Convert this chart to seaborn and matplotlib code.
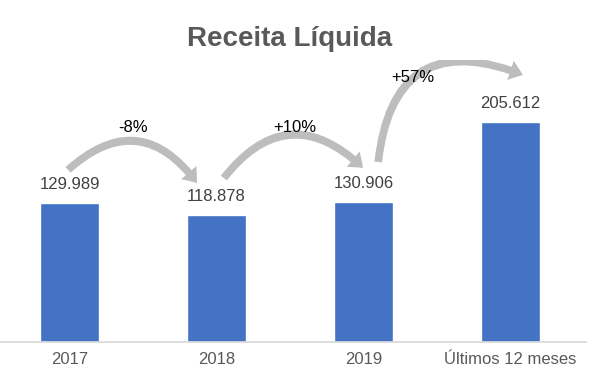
import matplotlib
matplotlib.use("Agg")
import matplotlib.pyplot as plt
import seaborn as sns
import pandas as pd
from matplotlib.patches import FancyArrowPatch

# dados do grafico
categorias = ["2017", "2018", "2019", "Últimos 12 meses"]
receita = [129.989, 118.878, 130.906, 205.612]
rotulos = ["129.989", "118.878", "130.906", "205.612"]
variacoes = ["-8%", "+10%", "+57%"]

sns.set_theme(style="white")
plt.rcParams["font.family"] = ["Liberation Sans", "DejaVu Sans"]

df = pd.DataFrame({"periodo": categorias, "receita": receita})

fig = plt.figure(figsize=(5.98, 3.87), dpi=100)
ax = fig.add_axes([0, 45 / 387, 586 / 598, 282 / 387])

sns.barplot(data=df, x="periodo", y="receita", color="#4472C4", width=0.4,
            saturation=1, ax=ax)

ax.set_xlim(-0.473, 3.514)
ax.set_ylim(0, 263.8)
ax.bar_label(ax.containers[0], labels=rotulos, padding=8, fontsize=12, color="#404040")

for s in ["top", "left", "right"]:
    ax.spines[s].set_visible(False)
ax.spines["bottom"].set_color("#D9D9D9")
ax.set_yticks([])
ax.set_xlabel("")
ax.set_ylabel("")
ax.tick_params(axis="x", length=0, pad=7, labelsize=12, labelcolor="#595959")

# setas curvas de variacao (coordenadas de dados)
setas = [
    ((-0.01, 161), (0.867, 148.7), -0.55),
    ((1.05, 153.4), (1.997, 162.8), -0.55),
    ((2.10, 168.4), (3.085, 249.8), -0.65),
]
for (ini, fim, rad) in setas:
    seta = FancyArrowPatch(ini, fim, connectionstyle=f"arc3,rad={rad}",
                           arrowstyle="simple,tail_width=0.55,head_width=1.45,head_length=0.95",
                           mutation_scale=10, color="#BDBDBD", lw=0,
                           shrinkA=0, shrinkB=0)
    ax.add_patch(seta)

pos_var = [(0.43, 201), (1.535, 201), (2.335, 247)]
for (x, y), txt in zip(pos_var, variacoes):
    ax.text(x, y, txt, ha="center", va="center", fontsize=12, color="black")

fig.text(0.485, 0.9, "Receita Líquida", ha="center", va="center", fontsize=20,
         fontweight="bold", color="#595959")

fig.savefig("out.png", dpi=100)
